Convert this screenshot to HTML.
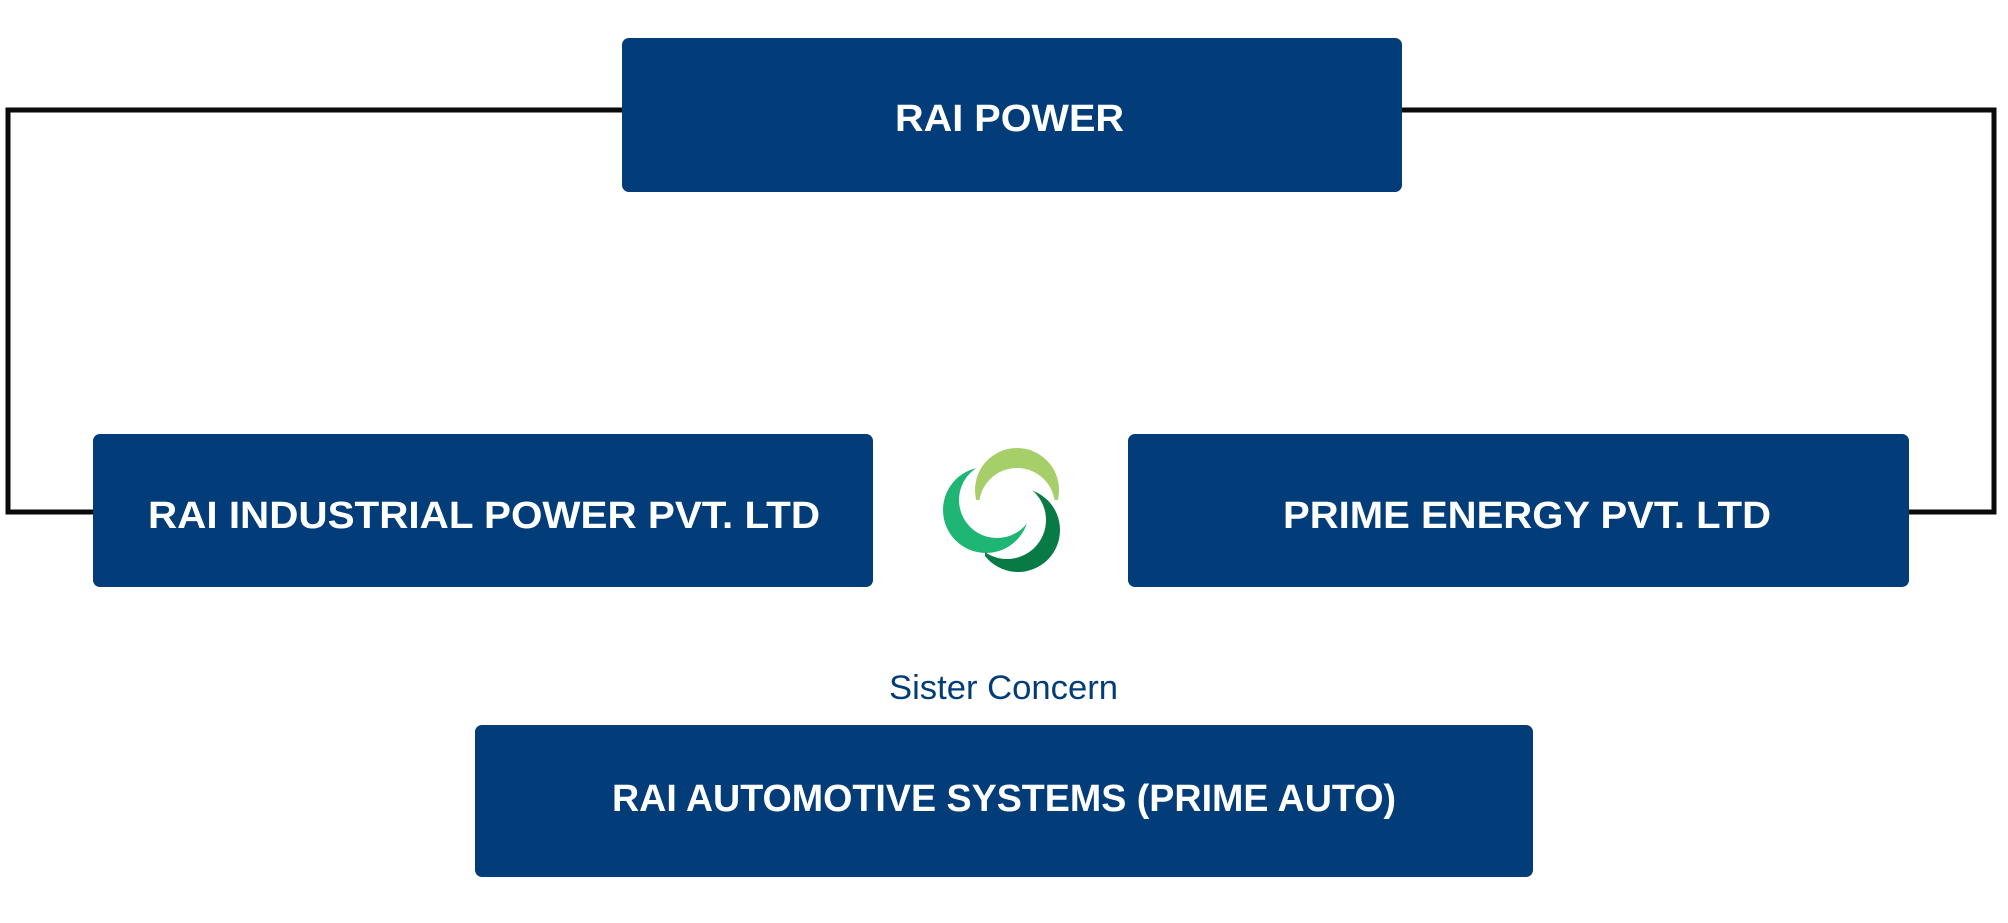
<!DOCTYPE html>
<html><head><meta charset="utf-8"><style>
html,body{margin:0;padding:0;background:#fff;}
svg{display:block;}
</style></head><body>
<svg width="2008" height="923" viewBox="0 0 2008 923" xmlns="http://www.w3.org/2000/svg">
<defs>
<mask id="m1"><rect x="900" y="420" width="240" height="200" fill="#fff"/><circle cx="1017" cy="506" r="38" fill="#000"/><rect x="900" y="500" width="240" height="120" fill="#000"/></mask>
<mask id="m2"><rect x="900" y="420" width="240" height="200" fill="#fff"/><circle cx="997" cy="500" r="38" fill="#000"/><rect x="1017" y="420" width="120" height="60" fill="#000"/></mask>
<mask id="m3"><rect x="900" y="420" width="240" height="200" fill="#fff"/><circle cx="1007" cy="520" r="39" fill="#000"/><rect x="900" y="420" width="85" height="200" fill="#000"/></mask>
</defs>
<g fill="none" stroke="#0a0a0a" stroke-width="5">
<polyline points="624,110 8,110 8,512 95,512"/>
<polyline points="1399,110 1994,110 1994,512 1907,512"/>
</g>
<g fill="#023d7a">
<rect x="622" y="38" width="780" height="154" rx="7"/>
<rect x="93" y="434" width="780" height="153" rx="7"/>
<rect x="1128" y="434" width="781" height="153" rx="7"/>
<rect x="475" y="725" width="1058" height="152" rx="7"/>
</g>
<g fill="#fff" font-family="Liberation Sans, sans-serif" font-weight="bold" font-size="38">
<text x="895" y="131" textLength="229" lengthAdjust="spacingAndGlyphs">RAI POWER</text>
<text x="148" y="528" textLength="672" lengthAdjust="spacingAndGlyphs">RAI INDUSTRIAL POWER PVT. LTD</text>
<text x="1283" y="528" textLength="488" lengthAdjust="spacingAndGlyphs">PRIME ENERGY PVT. LTD</text>
<text x="612" y="811" textLength="784" lengthAdjust="spacingAndGlyphs">RAI AUTOMOTIVE SYSTEMS (PRIME AUTO)</text>
</g>
<text x="889" y="699" textLength="229" lengthAdjust="spacingAndGlyphs" fill="#023d7a" font-family="Liberation Sans, sans-serif" font-size="34">Sister Concern</text>
<circle cx="1017" cy="490" r="42" fill="#a6cf6a" mask="url(#m1)"/>
<circle cx="986" cy="510" r="43" fill="#1fb574" mask="url(#m2)"/>
<circle cx="1018" cy="530" r="42" fill="#087a45" mask="url(#m3)"/>
</svg>
</body></html>
